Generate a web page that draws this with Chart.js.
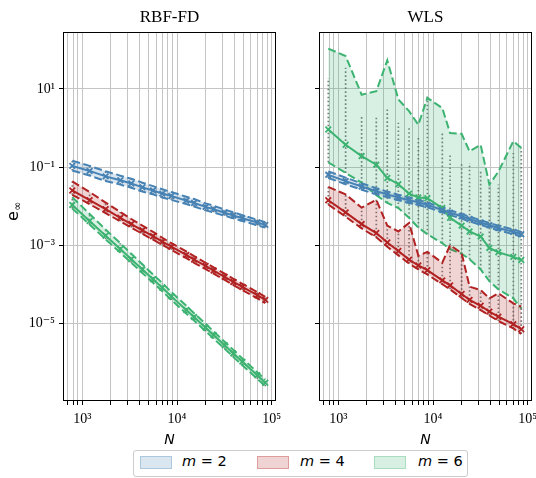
<!DOCTYPE html>
<html>
<head>
<meta charset="utf-8">
<script src="https://cdn.jsdelivr.net/npm/chart.js@4.4.0/dist/chart.umd.min.js"></script>
<style>
  html, body { margin: 0; padding: 0; background: #fff; overflow: hidden; }
  #wrap { position: relative; width: 536px; height: 478px; }
  canvas { position: absolute; top: 0; }
  #left { left: 0; }
  #right { left: 296px; }
  #legend { position: absolute; left: 133px; top: 450px; width: 333px; height: 25px;
    border: 1px solid #cccccc; border-radius: 3px; background: #fff;
    font-family: 'DejaVu Sans', sans-serif; font-size: 14.5px; color: #000; }
  .patch { position: absolute; top: 5px; width: 30px; height: 11px; }
  .lab { position: absolute; top: 2px; white-space: nowrap; }
</style>
</head>
<body>
<div id="wrap">
  <canvas id="left" width="290" height="450"></canvas>
  <canvas id="right" width="250" height="450"></canvas>
  <div id="legend">
    <span class="patch" style="left:6px;background:rgba(70,130,180,0.2);border:1px solid rgba(70,130,180,0.3)"></span>
    <span class="lab" style="left:48px"><i>m</i> = 2</span>
    <span class="patch" style="left:123px;background:rgba(178,34,34,0.2);border:1px solid rgba(178,34,34,0.3)"></span>
    <span class="lab" style="left:166px"><i>m</i> = 4</span>
    <span class="patch" style="left:240px;background:rgba(60,179,113,0.2);border:1px solid rgba(60,179,113,0.3)"></span>
    <span class="lab" style="left:284px"><i>m</i> = 6</span>
  </div>
</div>
<script>
// node counts N (same for both methods)
const N = [783, 1194, 1762, 2518, 3289, 4305, 5585, 6998, 8710, 12530, 15140, 20040, 24320, 31840, 39360, 48980, 70470, 85510];

// axis ticks
const xTicks = [700, 800, 900, 1000, 2000, 3000, 4000, 5000, 6000, 7000, 8000, 9000,
  10000, 20000, 30000, 40000, 50000, 60000, 70000, 80000, 90000, 100000];
const xMajor = [1000, 10000, 100000];
const yTicks = [10, 0.1, 0.001, 0.00001];

// error values, stored as log10(e_inf)
// RBF-FD
const rbf2Med = [-0.97, -1.10, -1.24, -1.34, -1.42, -1.52, -1.60, -1.68, -1.74, -1.86, -1.92, -2.02, -2.08, -2.17, -2.24, -2.31, -2.42, -2.48];
const rbf2Up  = [-0.84, -0.97, -1.11, -1.22, -1.30, -1.40, -1.49, -1.57, -1.64, -1.76, -1.82, -1.93, -1.99, -2.09, -2.16, -2.23, -2.35, -2.41];
const rbf2Lo  = [-1.09, -1.22, -1.36, -1.45, -1.53, -1.63, -1.70, -1.78, -1.84, -1.95, -2.01, -2.11, -2.16, -2.25, -2.31, -2.38, -2.49, -2.55];
const rbf4Med = [-1.60, -1.85, -2.08, -2.30, -2.46, -2.62, -2.77, -2.91, -3.04, -3.25, -3.37, -3.53, -3.65, -3.81, -3.94, -4.07, -4.28, -4.40];
const rbf4Up  = [-1.37, -1.64, -1.91, -2.15, -2.33, -2.50, -2.66, -2.81, -2.95, -3.16, -3.28, -3.45, -3.57, -3.73, -3.86, -3.99, -4.20, -4.32];
const rbf4Lo  = [-1.71, -1.95, -2.18, -2.39, -2.55, -2.71, -2.86, -2.99, -3.12, -3.33, -3.45, -3.61, -3.73, -3.89, -4.02, -4.15, -4.36, -4.48];
const rbf6Med = [-1.97, -2.38, -2.76, -3.10, -3.36, -3.62, -3.87, -4.09, -4.31, -4.66, -4.84, -5.11, -5.30, -5.56, -5.77, -5.98, -6.33, -6.52];
const rbf6Up  = [-1.77, -2.20, -2.60, -2.95, -3.22, -3.49, -3.75, -3.97, -4.20, -4.55, -4.74, -5.01, -5.21, -5.47, -5.68, -5.90, -6.25, -6.44];
const rbf6Lo  = [-2.06, -2.47, -2.85, -3.19, -3.45, -3.71, -3.96, -4.18, -4.40, -4.75, -4.93, -5.20, -5.39, -5.65, -5.86, -6.07, -6.42, -6.61];

// WLS
const wls2Med = [-1.20, -1.36, -1.50, -1.62, -1.70, -1.78, -1.85, -1.90, -1.97, -2.10, -2.17, -2.26, -2.33, -2.42, -2.49, -2.56, -2.66, -2.72];
const wls2Up  = [-1.11, -1.27, -1.42, -1.54, -1.63, -1.71, -1.78, -1.84, -1.91, -2.04, -2.11, -2.20, -2.27, -2.36, -2.43, -2.50, -2.60, -2.66];
const wls2Lo  = [-1.28, -1.44, -1.58, -1.70, -1.77, -1.85, -1.92, -1.97, -2.03, -2.16, -2.23, -2.32, -2.39, -2.48, -2.55, -2.62, -2.72, -2.78];
const wls4Med = [-1.85, -2.16, -2.46, -2.69, -2.93, -3.15, -3.37, -3.52, -3.64, -3.90, -4.03, -4.25, -4.40, -4.55, -4.70, -4.83, -5.02, -5.15];
const wls4Up  = [-1.51, -1.70, -2.04, -1.84, -2.50, -2.65, -2.43, -3.27, -3.17, -3.45, -3.00, -3.20, -4.06, -4.15, -4.36, -4.23, -4.49, -4.57];
const wls4Lo  = [-1.96, -2.27, -2.57, -2.80, -3.04, -3.26, -3.47, -3.62, -3.75, -4.00, -4.13, -4.35, -4.50, -4.66, -4.80, -4.94, -5.13, -5.27];
const wls6Med = [-0.04, -0.43, -0.72, -0.94, -1.28, -1.44, -1.68, -1.78, -1.80, -2.05, -2.30, -2.50, -2.65, -2.78, -3.07, -3.18, -3.30, -3.38];
const wls6Up  = [2.03, 1.84, 0.85, 0.94, 1.73, 0.73, 0.43, 0.08, 0.77, 0.51, -0.13, -0.15, -0.60, -0.43, -1.45, -1.12, -0.34, -0.51];
const wls6Lo  = [-0.88, -1.15, -1.40, -1.72, -1.92, -2.05, -2.30, -2.55, -2.72, -2.95, -3.10, -3.22, -3.36, -3.62, -3.92, -4.13, -4.36, -4.62];
// top of the cloud of individual runs (grey dots), m = 6 WLS
const wls6DotTop = [1.28, 1.54, 0.34, 0.26, 0.47, 0.13, 0.00, -0.22, 0.81, -0.13, -0.68, -0.90, -0.90, -1.07, -1.50, -1.45, -0.64, -0.51];

const BLUE = '#4682b4', RED = '#b22222', GREEN = '#3cb371';
const serif = "'Liberation Serif', 'DejaVu Serif', serif";

const supDigits = {'0':'⁰','1':'¹','2':'²','3':'³','4':'⁴','5':'⁵','6':'⁶','7':'⁷','8':'⁸','9':'⁹','-':'⁻'};
function sup(v) {
  const e = String(Math.round(Math.log10(v)));
  return '10' + e.split('').map(c => supDigits[c]).join('');
}

const pts = arr => N.map((n, i) => ({x: n, y: Math.pow(10, arr[i])}));

// vertical dotted columns standing in for the scatter of single runs
function dotColumns(lo, hi) {
  const out = [];
  N.forEach((n, i) => {
    out.push({x: n, y: Math.pow(10, lo[i])}, {x: n, y: Math.pow(10, hi[i])}, {x: n, y: null});
  });
  return out;
}

function series(color, fillColor, med, up, lo, dotTop) {
  return [
    {data: pts(up), borderColor: color, borderDash: [8, 3.5], borderWidth: 2, pointRadius: 0,
     fill: '+1', backgroundColor: fillColor, order: 3},
    {data: pts(lo), borderColor: color, borderDash: [8, 3.5], borderWidth: 2, pointRadius: 0,
     fill: false, order: 3},
    {data: dotColumns(lo, dotTop || up), borderColor: 'rgba(90,90,90,0.8)', borderDash: [1.6, 2.4],
     borderWidth: 1.7, pointRadius: 0, spanGaps: false, fill: false, order: 4},
    {data: pts(med), borderColor: color, borderWidth: 2, pointStyle: 'crossRot', pointRadius: 4,
     pointBorderWidth: 1.8, pointBorderColor: color, pointBackgroundColor: color, fill: false, order: 1}
  ];
}

const framePlugin = {
  id: 'frame',
  afterDraw(chart) {
    const {ctx, chartArea: a} = chart;
    ctx.save();
    ctx.strokeStyle = '#000';
    ctx.lineWidth = 1;
    ctx.strokeRect(Math.round(a.left) + 0.5, Math.round(a.top) + 0.5,
      Math.round(a.right - a.left) - 1, Math.round(a.bottom - a.top) - 1);
    ctx.restore();
  }
};

const yLabelPlugin = {
  id: 'ylabel',
  afterDraw(chart) {
    const ctx = chart.ctx;
    ctx.save();
    ctx.translate(18, 221);
    ctx.rotate(-Math.PI / 2);
    ctx.fillStyle = '#000';
    ctx.textAlign = 'left';
    ctx.textBaseline = 'alphabetic';
    ctx.font = "16px 'DejaVu Sans'";
    ctx.fillText('e', 0, 0);
    const w = ctx.measureText('e').width;
    ctx.font = "11px 'DejaVu Sans'";
    ctx.fillText('∞', w + 0.5, 3);
    ctx.restore();
  }
};

function makeChart(id, title, datasets, isLeft) {
  const grid = {color: '#c4c4c4', lineWidth: 1, tickLength: 4, tickColor: '#000', tickWidth: 1};
  return new Chart(document.getElementById(id), {
    type: 'line',
    data: {datasets},
    options: {
      responsive: false,
      animation: false,
      devicePixelRatio: 1,
      layout: {padding: {right: 14}},
      plugins: {
        legend: {display: false},
        tooltip: {enabled: false},
        title: {display: true, text: title, fullSize: false, color: '#000',
          font: {family: serif, size: 17, weight: 'normal', lineHeight: 1.2},
          padding: {top: 7, bottom: 4.6}}
      },
      scales: {
        x: {
          type: 'logarithmic', min: 625, max: 111000, bounds: 'data',
          afterBuildTicks: s => { s.ticks = xTicks.map(v => ({value: v})); },
          afterFit: s => { s.height = 49; },
          ticks: {autoSkip: false, maxRotation: 0, minRotation: 0, padding: 6, color: '#000',
            font: {family: serif, size: 14},
            callback: v => xMajor.includes(v) ? sup(v) : ''},
          grid: grid,
          border: {display: false},
          title: {display: true, text: 'N', color: '#000',
            font: {family: "'DejaVu Sans'", size: 14, style: 'italic'},
            padding: {top: 0, bottom: 1}}
        },
        y: {
          type: 'logarithmic', min: 1.03e-7, max: 285, bounds: 'data',
          afterBuildTicks: s => { s.ticks = yTicks.map(v => ({value: v})); },
          afterFit: s => { s.width = isLeft ? 63 : 23; },
          ticks: {padding: 4, color: '#000', font: {family: serif, size: 14},
            callback: v => isLeft ? sup(v) : ''},
          grid: grid,
          border: {display: false}
        }
      }
    },
    plugins: isLeft ? [framePlugin, yLabelPlugin] : [framePlugin]
  });
}

const fillBlue = 'rgba(70,130,180,0.2)';
const fillRed = 'rgba(178,34,34,0.2)';
const fillGreen = 'rgba(60,179,113,0.2)';

makeChart('left', 'RBF-FD', [
  ...series(BLUE, fillBlue, rbf2Med, rbf2Up, rbf2Lo),
  ...series(RED, fillRed, rbf4Med, rbf4Up, rbf4Lo),
  ...series(GREEN, fillGreen, rbf6Med, rbf6Up, rbf6Lo)
], true);

makeChart('right', 'WLS', [
  ...series(BLUE, fillBlue, wls2Med, wls2Up, wls2Lo),
  ...series(RED, fillRed, wls4Med, wls4Up, wls4Lo),
  ...series(GREEN, fillGreen, wls6Med, wls6Up, wls6Lo, wls6DotTop)
], false);
</script>
</body>
</html>
